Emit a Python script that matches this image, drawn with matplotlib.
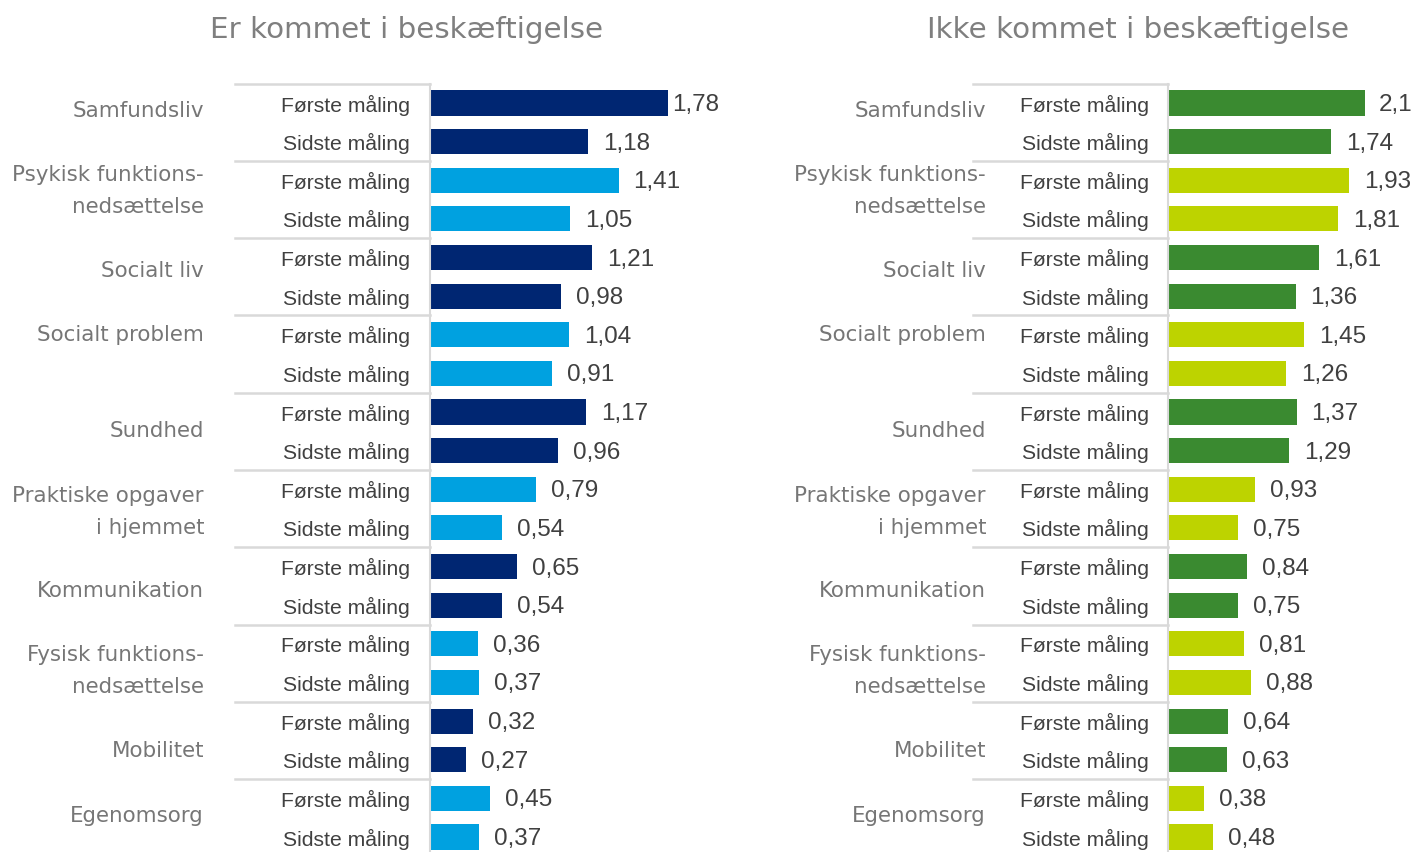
import numpy as np
import matplotlib
matplotlib.use("Agg")
import matplotlib.pyplot as plt

categories = ["Samfundsliv", "Psykisk funktions-\nnedsættelse", "Socialt liv", "Socialt problem",
              "Sundhed", "Praktiske opgaver\ni hjemmet", "Kommunikation", "Fysisk funktions-\nnedsættelse",
              "Mobilitet", "Egenomsorg"]
measures = ["Første måling", "Sidste måling"]

# first / last measurement per category
employed_first = [1.78, 1.41, 1.21, 1.04, 1.17, 0.79, 0.65, 0.36, 0.32, 0.45]
employed_last = [1.18, 1.05, 0.98, 0.91, 0.96, 0.54, 0.54, 0.37, 0.27, 0.37]
not_employed_first = [2.1, 1.93, 1.61, 1.45, 1.37, 0.93, 0.84, 0.81, 0.64, 0.38]
not_employed_last = [1.74, 1.81, 1.36, 1.26, 1.29, 0.75, 0.75, 0.88, 0.63, 0.48]

titles = ["Er kommet i beskæftigelse", "Ikke kommet i beskæftigelse"]

# layout: pixel nudges of the category labels (as in the original)
cat_shift = [-12, -10, -7, -20, -1, 2, 4, 7, 10, -3]

W, H = 1415, 853
fig = plt.figure(figsize=(W / 100, H / 100), dpi=100)
renderer = fig.canvas.get_renderer()

row_h = 38.63
top_px = 104 - row_h / 2
ax_h = row_h * 20

panels = [
    dict(x0=430, x1=725, scale=133.7, cat_dx=226, sub_dx=20, sep_dx=195, lab_max=719,
         first=employed_first, last=employed_last, colors=["#002672", "#00A1E0"], tx=407),
    dict(x0=1168, x1=1415, scale=93.8, cat_dx=182, sub_dx=19, sep_dx=195, lab_max=1412,
         first=not_employed_first, last=not_employed_last, colors=["#3A8A30", "#BDD300"], tx=1138),
]

for p, title in zip(panels, titles):
    w = p["x1"] - p["x0"]
    ax = fig.add_axes([p["x0"] / W, (H - top_px - ax_h) / H, w / W, ax_h / H])
    vals = []
    cols = []
    labels = []
    for i in range(len(categories)):
        vals += [p["first"][i], p["last"][i]]
        cols += [p["colors"][i % 2]] * 2
        labels += measures
    y = np.arange(len(vals))
    ax.barh(y, vals, height=0.65, color=cols)
    ax.set_ylim(len(vals) - 0.5, -0.5)
    ax.set_xlim(0, w / p["scale"])
    ax.set_xticks([])
    ax.set_yticks([])
    for s in ["top", "right", "bottom"]:
        ax.spines[s].set_visible(False)
    ax.spines["left"].set_color("#d9d9d9")
    ax.spines["left"].set_linewidth(1.5)

    for yi, lab in zip(y, labels):
        ax.annotate(lab, xy=(0, yi), xycoords=ax.get_yaxis_transform(), xytext=(-p["sub_dx"], -1),
                    textcoords="offset pixels", ha="right", va="center",
                    fontfamily="Liberation Sans", fontsize=15.2, color="#404040")

    for yi, v in zip(y, vals):
        t = ax.annotate(f"{v:g}".replace(".", ","), xy=(v, yi), xytext=(15, -1), textcoords="offset pixels",
                        ha="left", va="center", fontfamily="Liberation Sans", fontsize=17.5, color="#404040")
        # keep the label inside the plot area, like the original does
        over = t.get_window_extent(renderer).x1 - p["lab_max"]
        if over > 0:
            t.set_position((15 - over, -1))

    for g in range(len(categories) + 1):
        ax.plot([-p["sep_dx"] / w, 0], [2 * g - 0.5] * 2, transform=ax.get_yaxis_transform(),
                color="#d9d9d9", lw=1.8, clip_on=False)

    for g, cat in enumerate(categories):
        ax.annotate(cat, xy=(0, 2 * g + 0.5), xycoords=ax.get_yaxis_transform(),
                    xytext=(-p["cat_dx"], -cat_shift[g]), textcoords="offset pixels",
                    ha="right", va="center", multialignment="right", linespacing=1.75,
                    fontfamily="DejaVu Sans", fontsize=15.4, color="#767676")

    fig.text(p["tx"] / W, 1 - 30 / H, title, ha="center", va="center",
             fontfamily="DejaVu Sans", fontsize=21.2, color="#7f7f7f")

fig.savefig("out.png", dpi=100)
